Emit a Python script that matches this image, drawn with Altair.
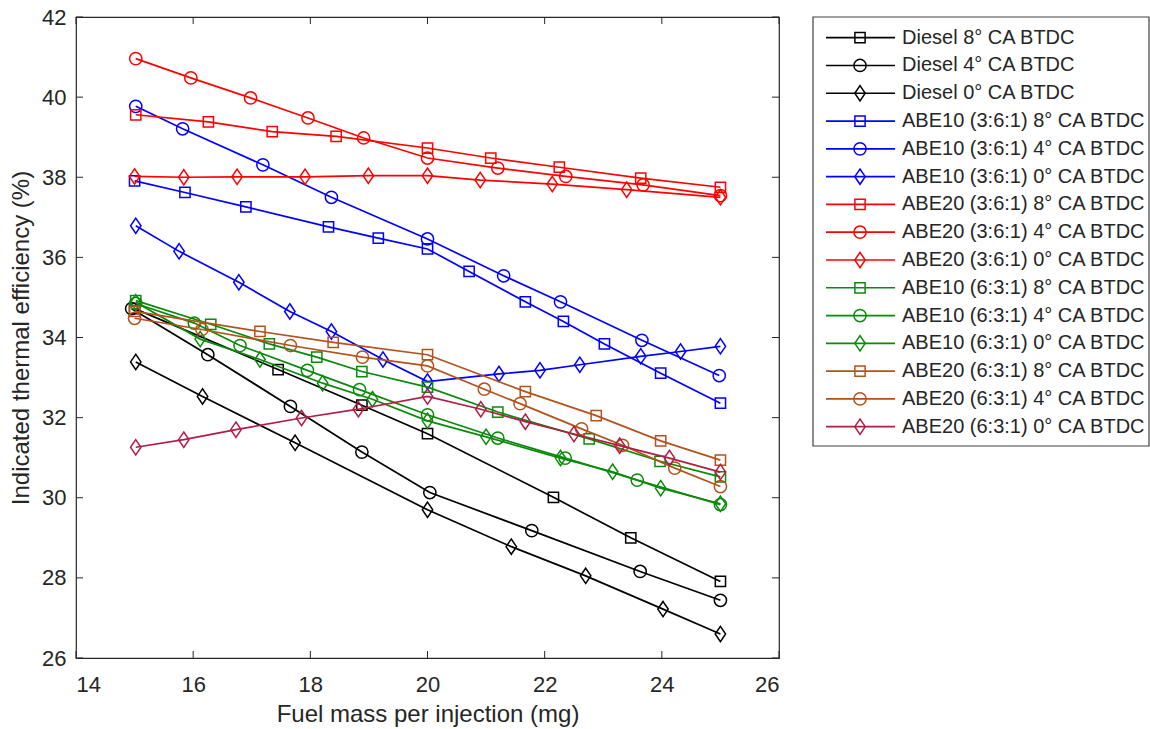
import altair as alt
import pandas as pd

DEG = "\u00b0"

# series names, in drawing / legend order
series_names = [
    f"Diesel 8{DEG} CA BTDC",
    f"Diesel 4{DEG} CA BTDC",
    f"Diesel 0{DEG} CA BTDC",
    f"ABE10 (3:6:1) 8{DEG} CA BTDC",
    f"ABE10 (3:6:1) 4{DEG} CA BTDC",
    f"ABE10 (3:6:1) 0{DEG} CA BTDC",
    f"ABE20 (3:6:1) 8{DEG} CA BTDC",
    f"ABE20 (3:6:1) 4{DEG} CA BTDC",
    f"ABE20 (3:6:1) 0{DEG} CA BTDC",
    f"ABE10 (6:3:1) 8{DEG} CA BTDC",
    f"ABE10 (6:3:1) 4{DEG} CA BTDC",
    f"ABE10 (6:3:1) 0{DEG} CA BTDC",
    f"ABE20 (6:3:1) 8{DEG} CA BTDC",
    f"ABE20 (6:3:1) 4{DEG} CA BTDC",
    f"ABE20 (6:3:1) 0{DEG} CA BTDC",
]

series_colors = [
    "#000000", "#000000", "#000000",
    "#0000ff", "#0000ff", "#0000ff",
    "#ff0000", "#ff0000", "#ff0000",
    "#0a8a0a", "#0a8a0a", "#0a8a0a",
    "#b3521c", "#b3521c", "#b01e46",
]

DIAMOND = "M0,-1L0.68,0L0,1L-0.68,0Z"
series_shapes = ["square", "circle", DIAMOND] * 5
series_sizes = {"square": 105, "circle": 150, DIAMOND: 235}

# fuel mass per injection (mg) and indicated thermal efficiency (%)
diesel8_x = [15.0, 17.45, 18.88, 20.0, 22.15, 23.47, 25.0]
diesel8_y = [34.72, 33.20, 32.31, 31.60, 30.01, 29.00, 27.91]
diesel4_x = [14.95, 16.25, 17.66, 18.88, 20.04, 21.78, 23.63, 25.0]
diesel4_y = [34.72, 33.57, 32.28, 31.14, 30.13, 29.18, 28.16, 27.44]
diesel0_x = [15.02, 16.16, 17.74, 20.0, 21.43, 22.7, 24.02, 25.0]
diesel0_y = [33.39, 32.53, 31.37, 29.70, 28.78, 28.05, 27.22, 26.60]

abe10a8_x = [15.0, 15.86, 16.9, 18.31, 19.16, 20.0, 20.71, 21.67, 22.32, 23.02, 23.98, 25.0]
abe10a8_y = [37.91, 37.62, 37.26, 36.76, 36.48, 36.21, 35.65, 34.89, 34.40, 33.84, 33.11, 32.36]
abe10a4_x = [15.02, 15.82, 17.19, 18.36, 20.0, 21.3, 22.27, 23.66, 24.98]
abe10a4_y = [39.77, 39.21, 38.31, 37.50, 36.46, 35.54, 34.89, 33.93, 33.05]
abe10a0_x = [15.02, 15.76, 16.78, 17.65, 18.36, 19.24, 20.0, 21.22, 21.92, 22.6, 23.64, 24.32, 25.0]
abe10a0_y = [36.79, 36.15, 35.38, 34.65, 34.15, 33.45, 32.90, 33.09, 33.18, 33.32, 33.53, 33.65, 33.78]

abe20a8_x = [15.02, 16.26, 17.35, 18.44, 20.0, 21.08, 22.25, 23.64, 25.0]
abe20a8_y = [39.56, 39.38, 39.14, 39.02, 38.73, 38.48, 38.25, 37.98, 37.75]
abe20a4_x = [15.02, 15.96, 16.98, 17.96, 18.91, 20.0, 21.2, 22.36, 23.68, 25.0]
abe20a4_y = [40.96, 40.48, 39.98, 39.48, 38.98, 38.48, 38.23, 38.02, 37.81, 37.54]
abe20a0_x = [15.0, 15.84, 16.75, 17.91, 18.99, 20.0, 20.9, 22.13, 23.4, 25.0]
abe20a0_y = [38.02, 38.00, 38.01, 38.01, 38.04, 38.04, 37.93, 37.83, 37.69, 37.50]

abe10b8_x = [15.02, 16.3, 17.3, 18.11, 18.88, 20.0, 21.2, 22.76, 23.97, 25.0]
abe10b8_y = [34.92, 34.33, 33.84, 33.51, 33.15, 32.76, 32.14, 31.47, 30.91, 30.52]
abe10b4_x = [15.02, 16.02, 16.8, 17.95, 18.84, 20.0, 21.2, 22.35, 23.58, 25.0]
abe10b4_y = [34.85, 34.36, 33.80, 33.18, 32.70, 32.07, 31.49, 30.99, 30.44, 29.83]
abe10b0_x = [15.02, 16.12, 17.14, 18.21, 19.06, 20.0, 21.0, 22.27, 23.16, 23.98, 25.0]
abe10b0_y = [34.88, 33.96, 33.45, 32.86, 32.46, 31.92, 31.52, 30.99, 30.65, 30.24, 29.85]

abe20b8_x = [15.0, 17.14, 18.39, 20.0, 21.67, 22.88, 23.98, 25.0]
abe20b8_y = [34.65, 34.15, 33.88, 33.57, 32.65, 32.05, 31.42, 30.94]
abe20b4_x = [15.0, 16.15, 17.66, 18.89, 20.0, 20.97, 21.58, 22.63, 23.33, 24.22, 25.0]
abe20b4_y = [34.48, 34.20, 33.80, 33.51, 33.29, 32.71, 32.35, 31.72, 31.31, 30.74, 30.28]
abe20b0_x = [15.02, 15.84, 16.73, 17.85, 18.82, 20.0, 20.91, 21.67, 22.5, 23.28, 24.13, 25.0]
abe20b0_y = [31.26, 31.45, 31.70, 31.99, 32.21, 32.53, 32.21, 31.90, 31.59, 31.30, 30.99, 30.64]

series_xy = [
    (diesel8_x, diesel8_y), (diesel4_x, diesel4_y), (diesel0_x, diesel0_y),
    (abe10a8_x, abe10a8_y), (abe10a4_x, abe10a4_y), (abe10a0_x, abe10a0_y),
    (abe20a8_x, abe20a8_y), (abe20a4_x, abe20a4_y), (abe20a0_x, abe20a0_y),
    (abe10b8_x, abe10b8_y), (abe10b4_x, abe10b4_y), (abe10b0_x, abe10b0_y),
    (abe20b8_x, abe20b8_y), (abe20b4_x, abe20b4_y), (abe20b0_x, abe20b0_y),
]

x_ticks = [14, 16, 18, 20, 22, 24, 26]
y_ticks = [26, 28, 30, 32, 34, 36, 38, 40, 42]

rows = []
for name, (xs, ys) in zip(series_names, series_xy):
    for xv, yv in zip(xs, ys):
        rows.append({"series": name, "fuel": xv, "eff": yv})
df = pd.DataFrame(rows)

W, H = 703, 641
AXIS_COLOR = "#262626"
FONT = "Liberation Sans"
LW = 1.7

color_scale = alt.Scale(domain=series_names, range=series_colors)
shape_scale = alt.Scale(domain=series_names, range=series_shapes)

x_enc = alt.X(
    "fuel:Q",
    scale=alt.Scale(domain=[14, 26], nice=False, zero=False),
    axis=alt.Axis(values=x_ticks, format="d", title="Fuel mass per injection (mg)", ticks=False,
                  domain=False, grid=False, labelPadding=16, titlePadding=7),
)
y_enc = alt.Y(
    "eff:Q",
    scale=alt.Scale(domain=[26, 42], nice=False, zero=False),
    axis=alt.Axis(values=y_ticks, format="d", title="Indicated thermal efficiency (%)", ticks=False,
                  domain=False, grid=False, labelPadding=10, titlePadding=8),
)

base = alt.Chart(df)
layers = []
for name, shp in zip(series_names, series_shapes):
    sel = base.transform_filter(alt.FieldEqualPredicate(field="series", equal=name))
    layers.append(
        sel.mark_line(strokeWidth=LW).encode(
            x=x_enc, y=y_enc,
            color=alt.Color("series:N", scale=color_scale, legend=None),
        )
    )
    layers.append(
        sel.mark_point(filled=False, strokeWidth=1.5, opacity=1, size=series_sizes[shp]).encode(
            x="fuel:Q", y="eff:Q",
            color=alt.Color("series:N", scale=color_scale, legend=None),
            shape=alt.Shape("series:N", scale=shape_scale, legend=None),
        )
    )

# inward tick marks on all four sides of the box
xt = alt.Chart(pd.DataFrame({"fuel": x_ticks}))
yt = alt.Chart(pd.DataFrame({"eff": y_ticks}))
TL = 7
tick_layers = [
    xt.mark_rule(color=AXIS_COLOR, strokeWidth=1).encode(x="fuel:Q", y=alt.value(H), y2=alt.value(H - TL)),
    xt.mark_rule(color=AXIS_COLOR, strokeWidth=1).encode(x="fuel:Q", y=alt.value(0), y2=alt.value(TL)),
    yt.mark_rule(color=AXIS_COLOR, strokeWidth=1).encode(y="eff:Q", x=alt.value(0), x2=alt.value(TL)),
    yt.mark_rule(color=AXIS_COLOR, strokeWidth=1).encode(y="eff:Q", x=alt.value(W), x2=alt.value(W - TL)),
]

main = alt.layer(*layers, *tick_layers)

# legend panel to the right of the axes
leg_df = pd.DataFrame({"series": series_names})
leg = alt.Chart(leg_df)
LX0, LX1 = 737, 1073
leg_y = alt.Y("series:N", sort=series_names, axis=None,
              scale=alt.Scale(type="point", domain=series_names, range=[20.7, 409.7], padding=0))
box = alt.Chart(pd.DataFrame({"k": [0]})).mark_rect(
    fill="white", stroke="#404040", strokeWidth=1.2
).encode(x=alt.value(LX0), x2=alt.value(LX1), y=alt.value(0), y2=alt.value(429))
leg_lines = leg.mark_rule(strokeWidth=LW).encode(
    x=alt.value(750), x2=alt.value(819), y=leg_y,
    color=alt.Color("series:N", scale=color_scale, legend=None),
)
leg_pts = []
for name, shp in zip(series_names, series_shapes):
    leg_pts.append(
        leg.transform_filter(alt.FieldEqualPredicate(field="series", equal=name))
        .mark_point(filled=False, strokeWidth=1.5, opacity=1, size=series_sizes[shp])
        .encode(
            x=alt.value(784), y=leg_y,
            color=alt.Color("series:N", scale=color_scale, legend=None),
            shape=alt.Shape("series:N", scale=shape_scale, legend=None),
        )
    )
leg_text = leg.mark_text(align="left", baseline="middle", font=FONT, fontSize=20,
                         color=AXIS_COLOR).encode(
    x=alt.value(826), y=leg_y, text="series:N"
)
legend = alt.layer(box, leg_lines, *leg_pts, leg_text)

chart = (
    alt.layer(main, legend)
    .resolve_scale(y="independent")
    .properties(
        width=W, height=H,
        autosize=alt.AutoSizeParams(type="none"),
        padding={"left": 76, "top": 17, "right": 1150 - 76 - W, "bottom": 729 - 17 - H},
        background="white",
    )
    .configure_view(stroke=AXIS_COLOR, strokeWidth=1.2)
    .configure_axis(
        labelFont=FONT, titleFont=FONT, labelFontSize=22, titleFontSize=24,
        labelColor=AXIS_COLOR, titleColor=AXIS_COLOR, titleFontWeight="normal",
    )
)

chart.save("out.html", embed_options={"renderer": "svg", "actions": False})
